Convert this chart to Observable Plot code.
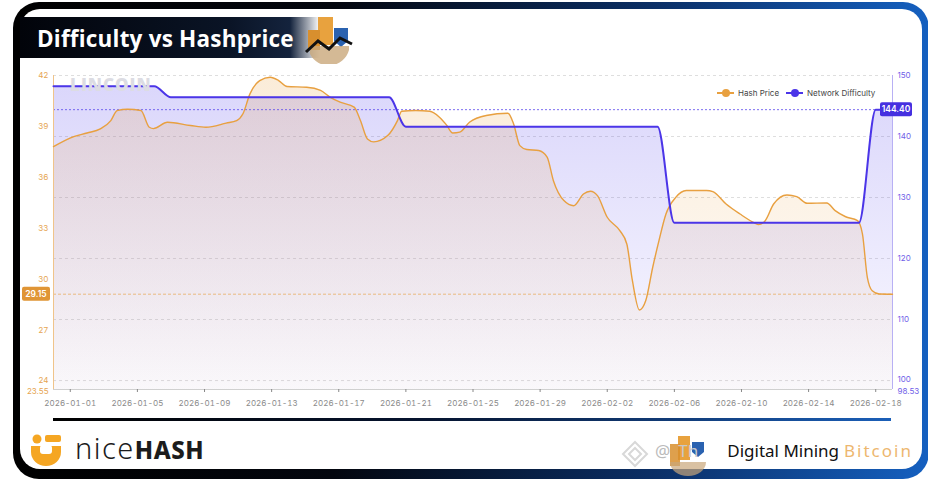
<!DOCTYPE html>
<html><head><meta charset="utf-8">
<script src="https://cdn.jsdelivr.net/npm/d3@7"></script>
<script src="https://cdn.jsdelivr.net/npm/@observablehq/plot@0.6"></script>
<style>
html,body{margin:0;padding:0;background:#fff;width:928px;height:482px;overflow:hidden;font-family:"Noto Sans",sans-serif;}
#frame{position:absolute;left:13px;top:2px;width:916px;height:477px;border-radius:26px;background:linear-gradient(90deg,#000 0%,#03060e 35%,#0b2f66 70%,#1560c0 100%);}
#inner{position:absolute;left:20px;top:9px;width:902px;height:460px;border-radius:20px;background:#fff;}
#banner{position:absolute;left:20px;top:17px;width:300px;height:41px;background:linear-gradient(90deg,#02040a 0%,#0a1426 70%,#14233d 90%,rgba(20,35,61,0) 100%);}
#title{position:absolute;left:37px;top:23px;font-family:"Open Sans",sans-serif;font-weight:700;font-size:22.5px;color:#fff;letter-spacing:0.2px;white-space:nowrap;}
#chart{position:absolute;left:0;top:60px;}
#lincoin{position:absolute;left:70px;top:73px;font-family:"Open Sans",sans-serif;font-weight:800;font-size:17px;color:#dcdce3;letter-spacing:1px;}
#legend{position:absolute;left:717px;top:88px;font-family:Inter,sans-serif;font-size:8px;color:#444;display:flex;align-items:center;white-space:nowrap;}
.lg{display:flex;align-items:center;margin-right:7px;}
.mk{position:relative;width:17px;height:8px;margin-right:4px;}
.mk .ln{position:absolute;left:0;top:3px;width:17px;height:2px;}
.mk .dt{position:absolute;left:4.5px;top:0;width:8px;height:8px;border-radius:50%;}
#sep{position:absolute;left:53px;top:418px;width:838px;height:3px;background:linear-gradient(90deg,#000 0%,#061430 45%,#1b5fb8 100%);}
#nice{position:absolute;left:75px;top:428px;white-space:nowrap;color:#1c1c1c;}
#nice .a{font-family:"Noto Sans",sans-serif;font-weight:300;font-size:29px;letter-spacing:1.5px;}
#nice .b{font-family:"Noto Sans",sans-serif;font-weight:800;font-size:24px;letter-spacing:0.5px;}
#dmb{position:absolute;left:655px;top:439px;white-space:nowrap;font-family:"Noto Sans",sans-serif;font-size:17px;}
</style></head>
<body>
<div id="frame"></div>
<div id="inner"></div>
<div id="banner"></div>
<div id="title">Difficulty vs Hashprice</div>
<svg style="position:absolute;left:302px;top:14px" width="56" height="50">
  <rect x="16" y="3" width="15" height="28" fill="#e8a23e"/>
  <rect x="6" y="16" width="12" height="20" fill="#d88f2e"/>
  <polygon points="32,14 46,14 46,27 39,33 32,27" fill="#2a62b0"/>
  <path d="M8,40 A21,21 0 0 0 47,36 L47,32 L8,32 Z" fill="#c9a77a" opacity="0.8"/>
  <polyline points="4,38 16,27 27,35 38,24 50,30" fill="none" stroke="#111" stroke-width="3"/>
</svg>
<div id="chart"></div>
<div id="lincoin">LINCOIN</div>
<div id="legend">
  <div class="lg"><div class="mk"><div class="ln" style="background:#e8a040"></div><div class="dt" style="background:#e8a040"></div></div>Hash Price</div>
  <div class="lg"><div class="mk"><div class="ln" style="background:#4b35e8"></div><div class="dt" style="background:#4b35e8"></div></div>Network Difficulty</div>
</div>
<div id="sep"></div>
<svg style="position:absolute;left:28px;top:432px" width="36" height="38">
  <circle cx="9" cy="7" r="4.5" fill="#f5a623"/>
  <rect x="17" y="3" width="16" height="7" rx="2" fill="#f5a623"/>
  <path d="M3,14 H33 V20 A15,14 0 0 1 3,20 Z" fill="#f5a623"/>
  <rect x="12" y="13" width="12" height="9" rx="3" fill="#fff"/>
</svg>
<div id="nice"><span class="a">nice</span><span class="b">HASH</span></div>
<svg style="position:absolute;left:620px;top:436px" width="110" height="40">
  <g fill="none" stroke="#d8d8d8" stroke-width="2"><path d="M15,6 L27,18 L15,30 L3,18 Z"/><path d="M15,12 L21,18 L15,24 L9,18 Z"/></g>
  <rect x="58" y="-2" width="12" height="26" fill="#e8a23e"/>
  <rect x="50" y="8" width="10" height="22" fill="#d88f2e" opacity="0.85"/>
  <polygon points="72,6 84,6 84,16 78,21 72,16" fill="#2a62b0"/>
  <path d="M50,26 A18,14 0 0 0 86,26 Z" fill="#c9a77a" opacity="0.7"/>
</svg>
<div id="dmb"><span style="color:#bbb">@</span><span style="color:#c8c8c8;margin-left:8px">Th</span><span style="color:#111;margin-left:29px">Digital Mining</span><span style="color:#e8a040;opacity:0.75;margin-left:5px;letter-spacing:2px">Bitcoin</span></div>
<script>
// ---- data ----
const hashTimes = [
"2025-12-31T00:00Z","2026-01-01T05:00Z","2026-01-02T00:00Z","2026-01-02T19:00Z","2026-01-03T10:00Z",
"2026-01-03T19:00Z","2026-01-04T10:00Z","2026-01-05T05:00Z","2026-01-05T17:00Z","2026-01-05T23:00Z",
"2026-01-06T19:00Z","2026-01-08T04:00Z","2026-01-09T02:00Z","2026-01-10T07:00Z","2026-01-10T22:00Z",
"2026-01-11T07:00Z","2026-01-11T17:00Z","2026-01-12T07:00Z","2026-01-12T22:00Z","2026-01-13T10:00Z",
"2026-01-13T22:00Z","2026-01-15T02:00Z","2026-01-15T22:00Z","2026-01-16T12:00Z","2026-01-17T02:00Z",
"2026-01-17T22:00Z","2026-01-18T07:00Z","2026-01-18T17:00Z","2026-01-19T02:00Z","2026-01-19T22:00Z",
"2026-01-20T12:00Z","2026-01-20T18:00Z","2026-01-21T14:00Z","2026-01-22T10:00Z","2026-01-23T00:00Z",
"2026-01-23T10:00Z","2026-01-23T19:00Z","2026-01-24T05:00Z","2026-01-24T19:00Z","2026-01-25T19:00Z",
"2026-01-27T02:00Z","2026-01-27T10:00Z","2026-01-27T19:00Z","2026-01-28T05:00Z","2026-01-28T22:00Z",
"2026-01-29T10:00Z","2026-01-29T19:00Z","2026-01-30T10:00Z","2026-01-31T00:00Z","2026-01-31T14:00Z",
"2026-02-01T00:00Z","2026-02-01T10:00Z","2026-02-02T00:00Z","2026-02-02T18:00Z","2026-02-03T04:00Z",
"2026-02-03T12:00Z","2026-02-03T22:00Z","2026-02-04T07:00Z","2026-02-04T17:00Z","2026-02-05T02:00Z",
"2026-02-05T12:00Z","2026-02-06T02:00Z","2026-02-06T17:00Z","2026-02-07T22:00Z","2026-02-08T07:00Z",
"2026-02-09T02:00Z","2026-02-09T22:00Z","2026-02-10T17:00Z","2026-02-11T00:00Z","2026-02-11T10:00Z",
"2026-02-11T22:00Z","2026-02-12T17:00Z","2026-02-13T07:00Z","2026-02-13T22:00Z","2026-02-15T02:00Z",
"2026-02-15T14:00Z","2026-02-16T05:00Z","2026-02-16T22:00Z","2026-02-17T05:00Z","2026-02-17T12:00Z",
"2026-02-17T19:00Z","2026-02-18T05:00Z","2026-02-19T00:00Z"];
const hashPrice = [
37.82,38.41,38.62,38.86,39.35,
39.94,40.02,39.94,38.96,38.88,
39.25,39.06,38.96,39.20,39.35,
39.75,40.92,41.70,41.90,41.70,
41.35,41.31,41.12,40.72,40.43,
40.14,39.35,38.27,38.10,38.47,
39.35,39.90,39.94,39.90,39.55,
39.10,38.62,38.67,39.25,39.65,
39.78,39.16,37.88,37.65,37.59,
37.20,35.82,34.65,34.35,35.04,
35.20,34.94,33.67,32.88,32.10,
29.94,28.22,28.76,30.72,32.30,
33.86,34.84,35.24,35.24,35.18,
34.45,33.86,33.37,33.24,33.47,
34.45,34.98,34.88,34.49,34.51,
34.06,33.70,33.47,32.69,30.14,
29.35,29.16,29.15];
const diffTimes = ["2025-12-31","2026-01-06","2026-01-07","2026-01-20","2026-01-21","2026-02-05","2026-02-06","2026-02-17","2026-02-18","2026-02-19"];
const difficulty = [148.25,148.25,146.44,146.44,141.6,141.6,125.85,125.85,144.40,144.40];
const xTicks = ["2026-01-01","2026-01-05","2026-01-09","2026-01-13","2026-01-17","2026-01-21","2026-01-25","2026-01-29","2026-02-02","2026-02-06","2026-02-10","2026-02-14","2026-02-18"];
const leftTicks = [24,27,30,33,36,39,42];
const rightTicks = [100,110,120,130,140,150];
const hpDomain = [23.55,42];
const diffDomain = [98.53,150];
const xDomain = ["2025-12-31","2026-02-19"];
const lastHash = 29.15, lastDiff = 144.40;

// ---- helpers ----
const ORANGE = "#e8a040", PURPLE = "#4b35e8";
const k = (hpDomain[1]-hpDomain[0])/(diffDomain[1]-diffDomain[0]);
const toY = d => hpDomain[0] + (d - diffDomain[0]) * k;
const hashData = hashTimes.map((t,i)=>({t:new Date(t), v:hashPrice[i]}));
const diffData = diffTimes.map((t,i)=>({t:new Date(t), v:toY(difficulty[i])}));
const ns = "http://www.w3.org/2000/svg";

function defsMark(){
  const defs = document.createElementNS(ns,"defs");
  defs.innerHTML = `
  <linearGradient id="gDiff" x1="0" y1="0" x2="0" y2="1">
    <stop offset="0" stop-color="#5a48ee" stop-opacity="0.22"/>
    <stop offset="1" stop-color="#5a48ee" stop-opacity="0.03"/>
  </linearGradient>
  <linearGradient id="gHash" x1="0" y1="0" x2="0" y2="1">
    <stop offset="0" stop-color="#e8a040" stop-opacity="0.2"/>
    <stop offset="1" stop-color="#e8a040" stop-opacity="0.02"/>
  </linearGradient>`;
  return defs;
}
function boxLabel(yv, txt, side, color){
  return (index, scales, values, dims) => {
    const y = scales.y(yv);
    const g = document.createElementNS(ns,"g");
    const w = side==="left" ? 28 : 32, h = 14;
    const x0 = side==="left" ? dims.marginLeft - 31 : dims.width - dims.marginRight - 12;
    const r = document.createElementNS(ns,"rect");
    r.setAttribute("x",x0); r.setAttribute("y",y-h/2); r.setAttribute("width",w); r.setAttribute("height",h);
    r.setAttribute("rx",2); r.setAttribute("fill",color);
    const t = document.createElementNS(ns,"text");
    t.setAttribute("x",x0+w/2); t.setAttribute("y",y); t.setAttribute("dy","0.35em");
    t.setAttribute("text-anchor","middle"); t.setAttribute("fill","#fff");
    t.setAttribute("font-size","8.5"); t.setAttribute("font-weight","600");
    t.textContent = txt;
    g.appendChild(r); g.appendChild(t);
    return g;
  };
}

const LCOL = "#e6a552", RCOL = "#6f5ee8";
const chart = Plot.plot({
  width: 928, height: 350,
  marginLeft: 53, marginRight: 36, marginTop: 15, marginBottom: 21,
  style: {background:"transparent", fontFamily:"Inter, sans-serif", fontSize:"8px", overflow:"visible"},
  x: {type:"utc", domain: xDomain.map(d=>new Date(d))},
  y: {domain: hpDomain},
  marks: [
    defsMark,
    Plot.gridY(rightTicks.map(toY), {stroke:"#d6d6d6", strokeOpacity:1, strokeDasharray:"3,3", strokeWidth:0.8}),
    Plot.areaY(diffData, {x:"t", y1: hpDomain[0], y2:"v", curve:"monotone-x", fill:"url(#gDiff)"}),
    Plot.areaY(hashData, {x:"t", y1: hpDomain[0], y2:"v", curve:"monotone-x", fill:"url(#gHash)"}),
    Plot.ruleY([toY(lastDiff)], {stroke:"#5a48ee", strokeDasharray:"2,2", strokeWidth:0.8}),
    Plot.ruleY([lastHash], {stroke:"#e8a040", strokeDasharray:"3,2", strokeWidth:0.8, strokeOpacity:0.8}),
    Plot.ruleY([hpDomain[0]], {stroke:"#d0d0d0", strokeWidth:1}),
    Plot.ruleX([new Date(xDomain[0])], {stroke:"#f0c48a", strokeWidth:1}),
    Plot.ruleX([new Date(xDomain[1])], {stroke:"#b8b0f4", strokeWidth:1}),
    Plot.line(hashData, {x:"t", y:"v", curve:"monotone-x", stroke:ORANGE, strokeWidth:1.4}),
    Plot.line(diffData, {x:"t", y:"v", curve:"monotone-x", stroke:PURPLE, strokeWidth:2}),
    Plot.axisX(xTicks.map(d=>new Date(d)), {tickFormat: d3.utcFormat("%Y-%m-%d"), tickSize:3, tickPadding:8, stroke:"#888", fill:"#8a8a8a", fontSize:8, label:null}),
    Plot.axisY(leftTicks.filter(d=>d!==24), {anchor:"left", tickSize:0, tickPadding:5, fill:LCOL, fontSize:8, label:null}),
    Plot.text([leftTicks[0]], {y: d=>d, text: d=>String(d), frameAnchor:"left", dx:-5, dy:-1, textAnchor:"end", fill:LCOL, fontSize:8}),
    Plot.text([hpDomain[0]], {y: d=>d, text: d=>String(d), frameAnchor:"left", dx:-5, dy:2, textAnchor:"end", fill:LCOL, fontSize:8}),
    Plot.text(rightTicks.slice(1), {y: d=>toY(d), text: d=>String(d), frameAnchor:"right", dx:5, textAnchor:"start", fill:RCOL, fontSize:8}),
    Plot.text([rightTicks[0]], {y: d=>toY(d), text: d=>String(d), frameAnchor:"right", dx:5, dy:-1, textAnchor:"start", fill:RCOL, fontSize:8}),
    Plot.text([diffDomain[0]], {y: d=>toY(d), text: d=>String(d), frameAnchor:"right", dx:5, dy:2, textAnchor:"start", fill:RCOL, fontSize:8}),
    boxLabel(lastHash, lastHash.toFixed(2), "left", "#e09535"),
    boxLabel(toY(lastDiff), lastDiff.toFixed(2), "right", "#4530e0")
  ]
});
document.getElementById("chart").appendChild(chart);
</script>
</body></html>
